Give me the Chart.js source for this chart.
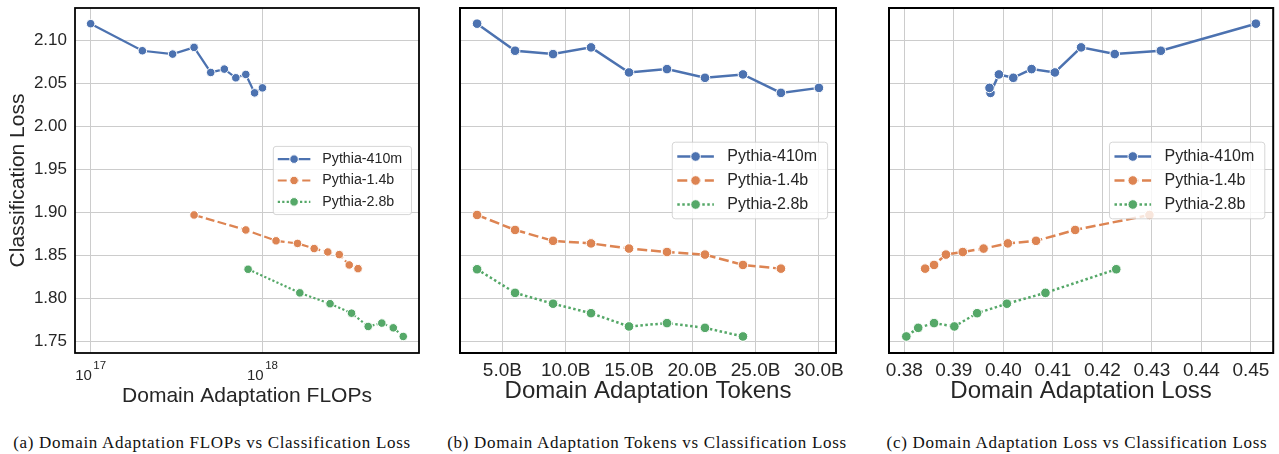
<!DOCTYPE html>
<html>
<head>
<meta charset="utf-8">
<script src="https://cdn.jsdelivr.net/npm/chart.js@4.4.1/dist/chart.umd.min.js"></script>
<style>
  body { margin: 0; background: #fff; width: 1279px; height: 454px; overflow: hidden; position: relative; }
  .panel { position: absolute; top: 0; height: 410px; }
  .cap { position: absolute; top: 433px; line-height: 20px; font-family: 'Liberation Serif', 'Times New Roman', serif;
         font-size: 17px; letter-spacing: 0.7px; color: #111; text-align: center; white-space: nowrap; }
</style>
</head>
<body>
<div class="panel" style="left:0;width:430px"><canvas id="flops"></canvas></div>
<div class="panel" style="left:430px;width:420px"><canvas id="tokens"></canvas></div>
<div class="panel" style="left:850px;width:429px"><canvas id="daloss"></canvas></div>
<div class="cap" style="left:0;width:424px">(a) Domain Adaptation FLOPs vs Classification Loss</div>
<div class="cap" style="left:437px;width:420px">(b) Domain Adaptation Tokens vs Classification Loss</div>
<div class="cap" style="left:875px;width:404px">(c) Domain Adaptation Loss vs Classification Loss</div>
<script>
const models = ['Pythia-410m', 'Pythia-1.4b', 'Pythia-2.8b'];

// x: domain adaptation FLOPs
const flops410m = [1e17, 2e17, 3e17, 4e17, 5e17, 6e17, 7e17, 8e17, 9e17, 1e18];
const flops1_4b = [4e17, 8e17, 1.2e18, 1.6e18, 2e18, 2.4e18, 2.8e18, 3.2e18, 3.6e18];
const flops2_8b = [8.25e17, 1.65e18, 2.475e18, 3.3e18, 4.125e18, 4.95e18, 5.775e18, 6.6e18];

// x: domain adaptation tokens (billions)
const tokens410m = [3, 6, 9, 12, 15, 18, 21, 24, 27, 30];
const tokens1_4b = [3, 6, 9, 12, 15, 18, 21, 24, 27];
const tokens2_8b = [3, 6, 9, 12, 15, 18, 21, 24];

// x: domain adaptation loss
const daLoss410m = [0.451, 0.4318, 0.4225, 0.4157, 0.4104, 0.4057, 0.402, 0.3991, 0.3974, 0.3972];
const daLoss1_4b = [0.4295, 0.4145, 0.4066, 0.4009, 0.396, 0.3918, 0.3884, 0.386, 0.3842];
const daLoss2_8b = [0.4228, 0.4085, 0.4007, 0.3947, 0.3901, 0.386, 0.3828, 0.3804];

// y: classification loss
const cls410m = [2.119, 2.0876, 2.0837, 2.0915, 2.0624, 2.0663, 2.0562, 2.0601, 2.0387, 2.0445];
const cls1_4b = [1.897, 1.8796, 1.867, 1.864, 1.858, 1.854, 1.851, 1.839, 1.8347];
const cls2_8b = [1.834, 1.8066, 1.794, 1.783, 1.7676, 1.7715, 1.766, 1.756];

// tick labels
const clsTicks = [1.75, 1.80, 1.85, 1.90, 1.95, 2.00, 2.05, 2.10];
const flopsTicks = [1e17, 1e18];
const tokenTicks = [5, 10, 15, 20, 25, 30];
const daTicks = [0.38, 0.39, 0.40, 0.41, 0.42, 0.43, 0.44, 0.45];

const colors = ['#4C72B0', '#DD8452', '#55A868'];
const dashes = [[], [4, 1.5], [1, 1]];   // in units of line width, like seaborn
const FONT = "'Liberation Sans', Arial, sans-serif";
const TXT = '#262626';

const frame = {
  id: 'frame',
  afterDraw(chart, args, o) {
    const {ctx, chartArea: a} = chart;
    ctx.save();
    ctx.strokeStyle = '#000';
    ctx.lineWidth = o.width;
    ctx.strokeRect(a.left, a.top, a.width, a.height);
    ctx.restore();
  }
};

const legendBox = {
  id: 'legendBox',
  afterDatasetsDraw(chart, args, o) {
    const {ctx, chartArea: a} = chart;
    const s = o.scale;
    const rowH = 24 * s;
    ctx.save();
    ctx.font = (16 * s) + 'px ' + FONT;
    const tw = Math.max(...chart.data.datasets.map(d => ctx.measureText(d.label).width));
    const sampleL = 5 * s, sampleW = 36.6 * s, gap = 13.4 * s, padR = 10.5 * s;
    const w = sampleL + sampleW + gap + tw + padR;
    const h = 3 * rowH + 4.6 * s;
    const x0 = a.right - 8.4 * s - w;
    const y0 = (a.top + a.bottom) / 2 - h / 2;
    ctx.beginPath();
    ctx.roundRect(x0, y0, w, h, 3 * s);
    ctx.fillStyle = 'rgba(255,255,255,0.8)';
    ctx.fill();
    ctx.strokeStyle = 'rgba(204,204,204,0.8)';
    ctx.lineWidth = 1;
    ctx.stroke();
    chart.data.datasets.forEach((d, i) => {
      const cy = y0 + 2.3 * s + rowH * (i + 0.5);
      ctx.strokeStyle = d.borderColor;
      ctx.lineWidth = d.borderWidth;
      ctx.setLineDash(d.borderDash);
      ctx.beginPath();
      ctx.moveTo(x0 + sampleL, cy);
      ctx.lineTo(x0 + sampleL + sampleW, cy);
      ctx.stroke();
      ctx.setLineDash([]);
      ctx.beginPath();
      ctx.arc(x0 + sampleL + sampleW / 2, cy, d.pointRadius, 0, Math.PI * 2);
      ctx.fillStyle = d.pointBackgroundColor;
      ctx.fill();
      ctx.strokeStyle = '#fff';
      ctx.lineWidth = 1;
      ctx.stroke();
      ctx.fillStyle = TXT;
      ctx.textBaseline = 'middle';
      ctx.textAlign = 'left';
      ctx.fillText(d.label, x0 + sampleL + sampleW + gap, cy);
    });
    ctx.restore();
  }
};

// 10^n labels for the log axis
const powTicks = {
  id: 'powTicks',
  afterDraw(chart) {
    const sc = chart.scales.x;
    if (sc.type !== 'logarithmic') return;
    const ctx = chart.ctx;
    const base = chart.chartArea.bottom + 27;
    ctx.save();
    ctx.fillStyle = TXT;
    ctx.textBaseline = 'alphabetic';
    ctx.textAlign = 'left';
    sc.ticks.forEach(t => {
      const px = sc.getPixelForValue(t.value);
      const e = String(Math.round(Math.log10(t.value)));
      ctx.font = '15px ' + FONT;
      const bw = ctx.measureText('10').width;
      ctx.font = '11.5px ' + FONT;
      const ew = ctx.measureText(e).width;
      const x0 = px - (bw + ew + 1.5) / 2;
      ctx.font = '15px ' + FONT;
      ctx.fillText('10', x0, base);
      ctx.font = '11.5px ' + FONT;
      ctx.fillText(e, x0 + bw + 1.5, base - 11.5);
    });
    ctx.restore();
  }
};

function makeSeries(xs, ys, s) {
  return models.map((m, i) => ({
    label: m,
    data: xs[i].map((x, j) => ({x: x, y: ys[i][j]})),
    showLine: true,
    borderColor: colors[i],
    backgroundColor: colors[i],
    borderWidth: 2.5 * s,
    borderDash: dashes[i].map(v => v * 2.5 * s),
    pointRadius: 4.8 * s,
    pointHoverRadius: 4.8 * s,
    pointBackgroundColor: colors[i],
    pointBorderColor: '#fff',
    pointBorderWidth: 1
  }));
}

function makeChart(id, o) {
  new Chart(document.getElementById(id), {
    type: 'scatter',
    data: {datasets: makeSeries(o.xs, [cls410m, cls1_4b, cls2_8b], o.s)},
    plugins: [frame, legendBox, powTicks],
    options: {
      responsive: true,
      maintainAspectRatio: false,
      animation: false,
      layout: {padding: {left: o.padL, right: o.padR, top: 8, bottom: 0}},
      plugins: {
        legend: {display: false},
        tooltip: {enabled: false},
        legendBox: {scale: o.s},
        frame: {width: 2 * o.s}
      },
      scales: {
        x: {
          type: o.xType,
          bounds: 'data',
          min: o.xMin,
          max: o.xMax,
          afterBuildTicks: sc => { sc.ticks = o.xTicks.map(v => ({value: v})); },
          afterFit: sc => { sc.height = 57; sc.paddingLeft = 0; sc.paddingRight = 0; },
          grid: {color: '#cccccc', lineWidth: 1, drawTicks: false},
          border: {display: false},
          ticks: {display: o.xType !== 'logarithmic', padding: 6, color: TXT,
                  font: {family: FONT, size: 19}, maxRotation: 0, autoSkip: false, callback: o.xFmt},
          title: {display: true, text: o.xTitle, color: TXT,
                  font: {family: FONT, size: o.titleSize}, padding: {top: 0, bottom: o.titlePad}}
        },
        y: {
          type: 'linear',
          bounds: 'data',
          min: 1.7368,
          max: 2.1372,
          afterBuildTicks: sc => { sc.ticks = clsTicks.map(v => ({value: v})); },
          afterFit: sc => { sc.width = o.yWidth; sc.paddingTop = 0; sc.paddingBottom = 0; },
          grid: {color: '#cccccc', lineWidth: 1, drawTicks: false},
          border: {display: false},
          ticks: {display: o.yLabels, padding: 8, color: TXT, font: {family: FONT, size: 17},
                  callback: v => v.toFixed(2)},
          title: {display: o.yLabels, text: 'Classification Loss', color: TXT,
                  font: {family: FONT, size: 21}, padding: {top: 6, bottom: 0}}
        }
      }
    }
  });
}

makeChart('flops', {
  xs: [flops410m, flops1_4b, flops2_8b], s: 0.89,
  xType: 'logarithmic', xMin: 8.11e16, xMax: 8.15e18, xTicks: flopsTicks,
  xFmt: v => v, xTitle: 'Domain Adaptation FLOPs', titleSize: 21, titlePad: 1.6,
  padL: 0, padR: 11, yWidth: 75, yLabels: true
});

makeChart('tokens', {
  xs: [tokens410m, tokens1_4b, tokens2_8b], s: 1,
  xType: 'linear', xMin: 1.65, xMax: 31.35, xTicks: tokenTicks,
  xFmt: v => v.toFixed(1) + 'B', xTitle: 'Domain Adaptation Tokens', titleSize: 24, titlePad: 4.6,
  padL: 30, padR: 14, yWidth: 0, yLabels: false
});

makeChart('daloss', {
  xs: [daLoss410m, daLoss1_4b, daLoss2_8b], s: 1,
  xType: 'linear', xMin: 0.3769, xMax: 0.4545, xTicks: daTicks,
  xFmt: v => v.toFixed(2), xTitle: 'Domain Adaptation Loss', titleSize: 24, titlePad: 4.6,
  padL: 39, padR: 3, yWidth: 0, yLabels: false
});
</script>
</body>
</html>
